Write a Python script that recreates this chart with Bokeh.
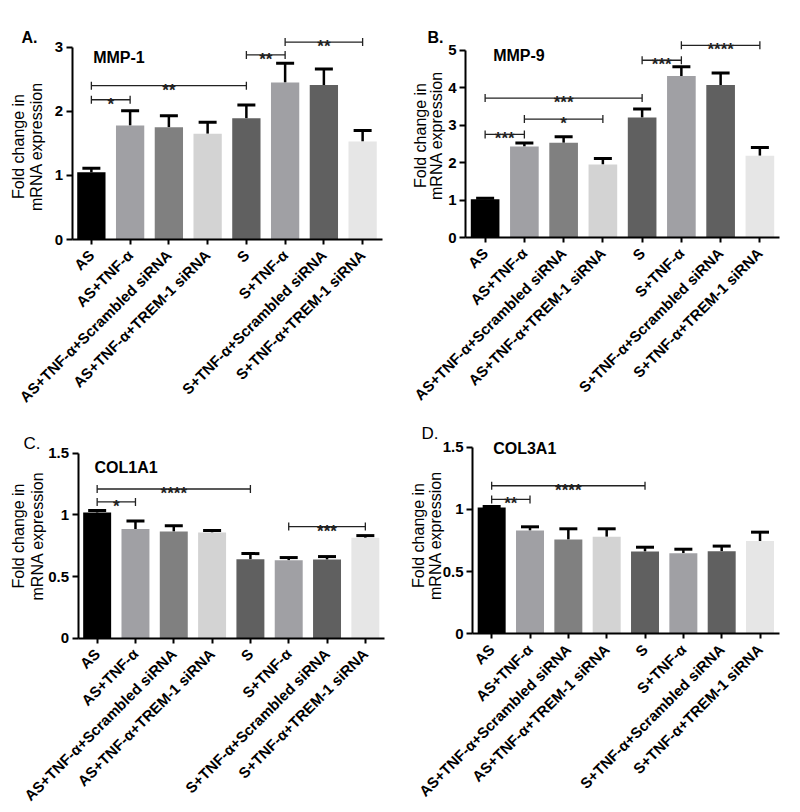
import math
from bokeh.plotting import figure
from bokeh.models import (Range1d, FixedTicker, Label, ColumnDataSource, Whisker, TeeHead)
from bokeh.layouts import column, row
from bokeh.embed import file_html
from bokeh.resources import INLINE
from bokeh.core.properties import value

# ---------------- data ----------------
categories = ["AS", "AS+TNF-α", "AS+TNF-α+Scrambled siRNA", "AS+TNF-α+TREM-1 siRNA",
              "S", "S+TNF-α", "S+TNF-α+Scrambled siRNA", "S+TNF-α+TREM-1 siRNA"]
bar_colors = ["#000000", "#a0a0a4", "#808080", "#d3d3d3",
              "#606060", "#a0a0a4", "#606060", "#e6e6e6"]

mmp1_mean = [1.05, 1.78, 1.75, 1.65, 1.89, 2.45, 2.41, 1.53]
mmp1_err = [0.06, 0.23, 0.18, 0.18, 0.21, 0.30, 0.25, 0.17]
mmp9_mean = [1.02, 2.43, 2.53, 1.95, 3.20, 4.31, 4.07, 2.18]
mmp9_err = [0.03, 0.09, 0.16, 0.16, 0.23, 0.25, 0.32, 0.22]
col1a1_mean = [1.02, 0.886, 0.865, 0.857, 0.64, 0.632, 0.638, 0.814]
col1a1_err = [0.015, 0.064, 0.046, 0.016, 0.046, 0.022, 0.024, 0.018]
col3a1_mean = [1.015, 0.83, 0.758, 0.78, 0.662, 0.648, 0.664, 0.745]
col3a1_err = [0.008, 0.03, 0.086, 0.064, 0.034, 0.032, 0.041, 0.072]

# significance brackets: (from index, to index, bracket height, stars)
mmp1_sig = [(0, 1, 2.18, "*"), (0, 4, 2.40, "**"), (4, 5, 2.88, "**"), (5, 7, 3.08, "**")]
mmp9_sig = [(0, 1, 2.75, "***"), (1, 3, 3.16, "*"), (0, 4, 3.72, "***"),
            (4, 5, 4.73, "***"), (5, 7, 5.13, "****")]
col1a1_sig = [(0, 1, 1.105, "*"), (0, 4, 1.21, "****"), (5, 7, 0.905, "***")]
col3a1_sig = [(0, 1, 1.08, "**"), (0, 4, 1.19, "****")]

ticks_mmp1 = [0, 1, 2, 3]
ticks_mmp9 = [0, 1, 2, 3, 4, 5]
ticks_col = [0, 0.5, 1.0, 1.5]

ylabel_lines = ["Fold change in", "mRNA expression"]

FONT = "Liberation Sans"

# ---------------- layout configuration (page pixels) ----------------
# axis_x: x of the value axis; right: end of the category axis; base: y of value 0
panels_cfg = [
    dict(letter="A.", letter_bold=True, letter_size="16px", gene="MMP-1",
         size=(400, 405), origin=(0, 0), axis_x=71.5, right=381.5, base=239, ppu=64.1,
         letter_pos=(21, 37), gene_pos=(92.7, 57.3), ylab=((17.5, 146), (36.3, 146))),
    dict(letter="B.", letter_bold=True, letter_size="16px", gene="MMP-9",
         size=(400, 405), origin=(400, 0), axis_x=465, right=779, base=237, ppu=37.47,
         letter_pos=(427, 37), gene_pos=(492.7, 55), ylab=((420, 135), (435.5, 135))),
    dict(letter="C.", letter_bold=False, letter_size="17px", gene="COL1A1",
         size=(400, 405), origin=(0, 405), axis_x=77.5, right=384, base=637.7, ppu=123.3,
         letter_pos=(23, 443), gene_pos=(94, 467), ylab=((17.5, 535.5), (37, 535.5))),
    dict(letter="D.", letter_bold=False, letter_size="17px", gene="COL3A1",
         size=(400, 405), origin=(400, 405), axis_x=472, right=778.7, base=633.3, ppu=124.4,
         letter_pos=(421, 433), gene_pos=(492.7, 448), ylab=((417.5, 535), (435, 535))),
]


def make_panel(cfg, means, errs, sig, ticks):
    W, H = cfg["size"]
    ox, oy = cfg["origin"]
    ax, rt, base = cfg["axis_x"], cfg["right"], cfg["base"]
    ppu = cfg["ppu"]
    n = len(categories)
    sp = (rt - ax) / n

    def to_data(px, py):
        return (px - ax) / sp, (base - py) / ppu

    x0, y1 = to_data(ox, oy)
    x1, y0 = to_data(ox + W, oy + H)

    p = figure(width=W, height=H, title=None,
               x_range=Range1d(x0, x1), y_range=Range1d(y0, y1),
               output_backend="svg", toolbar_location=None,
               min_border=0, min_border_left=0, min_border_right=0,
               min_border_top=0, min_border_bottom=0)
    p.outline_line_color = None
    p.xgrid.grid_line_color = None
    p.ygrid.grid_line_color = None

    xs = [i + 0.5 for i in range(n)]
    src = ColumnDataSource(dict(x=xs, mean=means,
                                upper=[m + e for m, e in zip(means, errs)],
                                color=bar_colors))
    p.vbar(x="x", top="mean", width=0.73, bottom=0, fill_color="color",
           line_color=None, source=src)
    p.add_layout(Whisker(base="x", lower="mean", upper="upper", source=src,
                         line_color="black", line_width=2.5, lower_head=None,
                         upper_head=TeeHead(size=18, line_width=3, line_color="black")))

    # significance brackets
    cap = 4.0 / ppu
    hx0, hx1, hy, vx, vy0, vy1, sx, sy, st = [], [], [], [], [], [], [], [], []
    for i, j, h, s in sig:
        xi, xj = xs[i], xs[j]
        hx0.append(xi); hx1.append(xj); hy.append(h)
        for xx in (xi, xj):
            vx.append(xx); vy0.append(h - cap); vy1.append(h + cap)
        sx.append((xi + xj) / 2); sy.append(h - 4.5 / ppu); st.append(s)
    p.segment(x0=hx0, y0=hy, x1=hx1, y1=hy, line_color="#222222", line_width=1.3)
    p.segment(x0=vx, y0=vy0, x1=vx, y1=vy1, line_color="#222222", line_width=1.3)
    p.text(x=sx, y=sy, text=st, text_align="center", text_baseline="alphabetic",
           text_font=value(FONT), text_font_size="17px", text_font_style="bold",
           text_color="#222222")

    # category axis at y = 0
    xa = p.xaxis[0]
    xa.fixed_location = 0
    xa.ticker = FixedTicker(ticks=xs)
    xa.major_label_overrides = {x: c for x, c in zip(xs, categories)}
    xa.bounds = (0, n)
    xa.axis_line_width = 2
    xa.major_tick_line_width = 2
    xa.major_tick_out = 5
    xa.major_tick_in = 0
    xa.minor_tick_line_color = None
    xa.major_label_orientation = math.pi / 4
    xa.major_label_text_font = FONT
    xa.major_label_text_font_size = "15px"
    xa.major_label_text_font_style = "bold"
    xa.major_label_text_color = "black"
    xa.major_label_standoff = 8

    # value axis at x = 0
    ya = p.yaxis[0]
    ya.fixed_location = 0
    ya.ticker = FixedTicker(ticks=ticks)
    ya.bounds = (ticks[0], ticks[-1])
    ya.axis_line_width = 2
    ya.major_tick_line_width = 2
    ya.major_tick_out = 6
    ya.major_tick_in = 0
    ya.minor_tick_line_color = None
    ya.major_label_text_font = FONT
    ya.major_label_text_font_size = "15px"
    ya.major_label_text_font_style = "bold"
    ya.major_label_text_color = "black"
    ya.major_label_standoff = 3

    # gene name
    gx, gy = to_data(*cfg["gene_pos"])
    p.add_layout(Label(x=gx, y=gy, text=cfg["gene"], text_font=FONT,
                       text_font_size="16px", text_font_style="bold",
                       text_align="left", text_baseline="alphabetic", text_color="black"))
    # panel letter
    lx, ly = to_data(*cfg["letter_pos"])
    p.add_layout(Label(x=lx, y=ly, text=cfg["letter"], text_font=FONT,
                       text_font_size=cfg["letter_size"],
                       text_font_style="bold" if cfg["letter_bold"] else "normal",
                       text_align="left", text_baseline="alphabetic", text_color="black"))
    # y-axis title (two lines)
    for txt, pos in zip(ylabel_lines, cfg["ylab"]):
        yx, yy = to_data(*pos)
        p.add_layout(Label(x=yx, y=yy, text=txt, text_font=FONT, text_font_size="16px",
                           angle=math.pi / 2, text_align="center", text_baseline="middle",
                           text_color="black"))
    return p


pA = make_panel(panels_cfg[0], mmp1_mean, mmp1_err, mmp1_sig, ticks_mmp1)
pB = make_panel(panels_cfg[1], mmp9_mean, mmp9_err, mmp9_sig, ticks_mmp9)
pC = make_panel(panels_cfg[2], col1a1_mean, col1a1_err, col1a1_sig, ticks_col)
pD = make_panel(panels_cfg[3], col3a1_mean, col3a1_err, col3a1_sig, ticks_col)

layout = column(row(pA, pB), row(pC, pD))
open("out.html", "w").write(file_html(layout, INLINE))
